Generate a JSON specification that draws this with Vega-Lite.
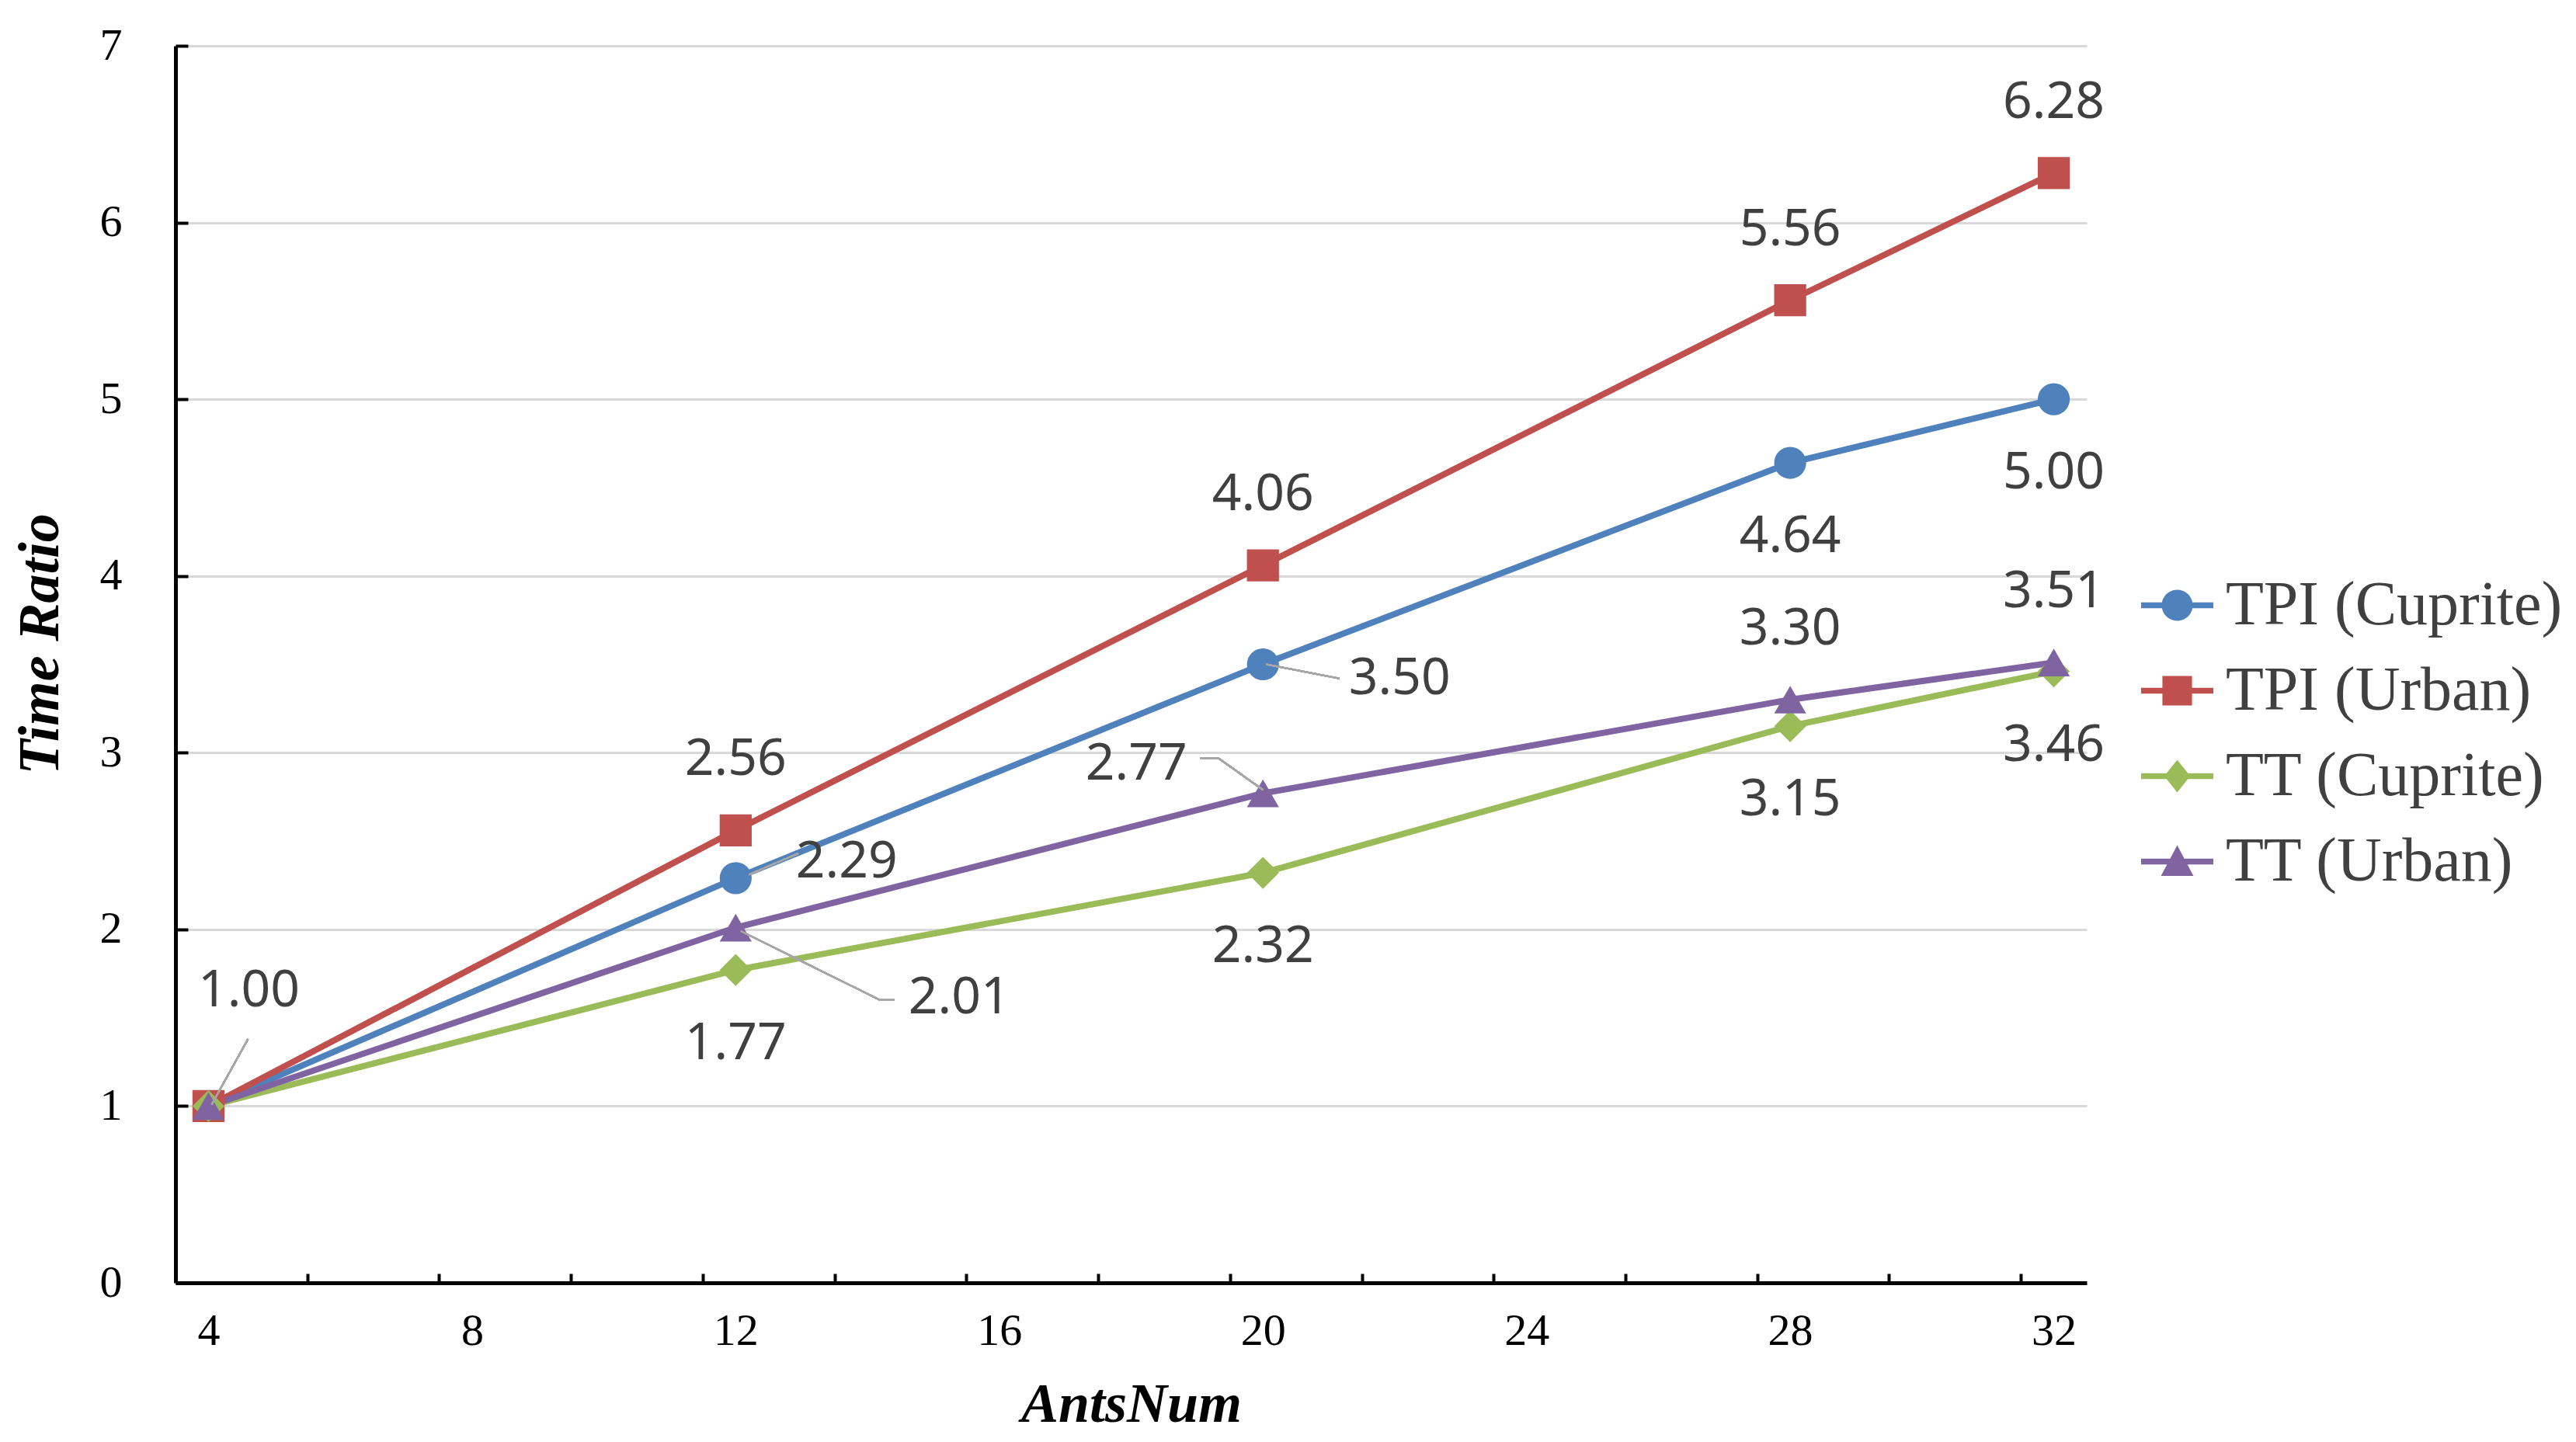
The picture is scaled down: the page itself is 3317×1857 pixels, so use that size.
{
  "$schema": "https://vega.github.io/schema/vega-lite/v6.json",
  "width": 2461,
  "height": 1593,
  "autosize": {"type": "none"},
  "padding": {"left": 226, "top": 59, "right": 630, "bottom": 205},
  "background": "white",
  "config": {"view": {"stroke": null}},
  "data": {
    "values": [
      {"ants": 4, "ratio": 1.00, "series": "TPI (Cuprite)", "pos": "callout"},
      {"ants": 12, "ratio": 2.29, "series": "TPI (Cuprite)", "pos": "callout"},
      {"ants": 20, "ratio": 3.50, "series": "TPI (Cuprite)", "pos": "callout"},
      {"ants": 28, "ratio": 4.64, "series": "TPI (Cuprite)", "pos": "below"},
      {"ants": 32, "ratio": 5.00, "series": "TPI (Cuprite)", "pos": "below"},
      {"ants": 4, "ratio": 1.00, "series": "TPI (Urban)", "pos": "hidden"},
      {"ants": 12, "ratio": 2.56, "series": "TPI (Urban)", "pos": "above"},
      {"ants": 20, "ratio": 4.06, "series": "TPI (Urban)", "pos": "above"},
      {"ants": 28, "ratio": 5.56, "series": "TPI (Urban)", "pos": "above"},
      {"ants": 32, "ratio": 6.28, "series": "TPI (Urban)", "pos": "above"},
      {"ants": 4, "ratio": 1.00, "series": "TT (Cuprite)", "pos": "hidden"},
      {"ants": 12, "ratio": 1.77, "series": "TT (Cuprite)", "pos": "below"},
      {"ants": 20, "ratio": 2.32, "series": "TT (Cuprite)", "pos": "below"},
      {"ants": 28, "ratio": 3.15, "series": "TT (Cuprite)", "pos": "below"},
      {"ants": 32, "ratio": 3.46, "series": "TT (Cuprite)", "pos": "below"},
      {"ants": 4, "ratio": 1.00, "series": "TT (Urban)", "pos": "hidden"},
      {"ants": 12, "ratio": 2.01, "series": "TT (Urban)", "pos": "callout"},
      {"ants": 20, "ratio": 2.77, "series": "TT (Urban)", "pos": "callout"},
      {"ants": 28, "ratio": 3.30, "series": "TT (Urban)", "pos": "above"},
      {"ants": 32, "ratio": 3.51, "series": "TT (Urban)", "pos": "above"}
    ]
  },
  "encoding": {
    "x": {
      "field": "ants",
      "type": "quantitative",
      "scale": {"domain": [3.5, 32.5], "nice": false, "zero": false},
      "axis": {
        "title": "AntsNum",
        "values": [4, 5.5, 7.5, 8, 9.5, 11.5, 12, 13.5, 15.5, 16, 17.5, 19.5, 20, 21.5, 23.5, 24, 25.5, 27.5, 28, 29.5, 31.5, 32],
        "labelExpr": "datum.value % 4 === 0 ? datum.label : ''",
        "labelFont": "Liberation Serif",
        "labelFontSize": 58,
        "labelColor": "black",
        "labelPadding": 45,
        "labelFlush": false,
        "labelOverlap": false,
        "tickSize": -12,
        "tickWidth": 4,
        "tickColor": "black",
        "tickOpacity": {"condition": {"test": "datum.value % 4 === 0", "value": 0}, "value": 1},
        "domainColor": "black",
        "domainWidth": 5,
        "grid": false,
        "titleFont": "Liberation Serif",
        "titleFontStyle": "italic",
        "titleFontWeight": "bold",
        "titleFontSize": 72,
        "titleColor": "black",
        "titlePadding": 30
      }
    },
    "y": {
      "field": "ratio",
      "type": "quantitative",
      "scale": {"domain": [0, 7], "nice": false},
      "axis": {
        "title": "Time Ratio",
        "values": [0, 1, 2, 3, 4, 5, 6, 7],
        "labelFont": "Liberation Serif",
        "labelFontSize": 58,
        "labelColor": "black",
        "labelPadding": 85,
        "labelFlush": false,
        "tickSize": -16,
        "tickWidth": 4,
        "tickColor": "black",
        "domainColor": "black",
        "domainWidth": 5,
        "grid": true,
        "gridColor": "#D9D9D9",
        "gridWidth": 3,
        "titleFont": "Liberation Serif",
        "titleFontStyle": "italic",
        "titleFontWeight": "bold",
        "titleFontSize": 74,
        "titleColor": "black",
        "titlePadding": 38,
        "titleY": 770
      }
    },
    "color": {
      "field": "series",
      "type": "nominal",
      "scale": {"domain": ["TPI (Cuprite)", "TPI (Urban)", "TT (Cuprite)", "TT (Urban)"], "range": ["#4F81BD", "#C0504D", "#9BBB59", "#8064A2"]},
      "legend": {
        "title": null,
        "orient": "none",
        "legendX": 2531,
        "legendY": 674,
        "padding": 0,
        "symbolSize": 8649,
        "symbolStrokeWidth": 0,
        "symbolOpacity": 1,
        "labelFont": "Liberation Serif",
        "labelFontSize": 80,
        "labelColor": "#404040",
        "labelOffset": 16,
        "labelLimit": 1000,
        "rowPadding": 23
      }
    }
  },
  "layer": [
    {
      "mark": {"type": "line", "strokeWidth": 8}
    },
    {
      "transform": [{"filter": "datum.series === 'TPI (Cuprite)'"}],
      "mark": {"type": "point", "shape": "circle", "filled": true, "opacity": 1, "size": 1700}
    },
    {
      "transform": [{"filter": "datum.series === 'TPI (Urban)'"}],
      "mark": {"type": "point", "shape": "square", "filled": true, "opacity": 1, "size": 1700}
    },
    {
      "transform": [{"filter": "datum.series === 'TT (Cuprite)'"}],
      "mark": {"type": "point", "shape": "diamond", "filled": true, "opacity": 1, "size": 1700}
    },
    {
      "transform": [{"filter": "datum.series === 'TT (Urban)'"}],
      "mark": {"type": "point", "shape": "triangle-up", "filled": true, "opacity": 1, "size": 1700}
    },
    {
      "transform": [{"filter": "datum.ants < 0"}],
      "mark": {"type": "point", "filled": true, "opacity": 1},
      "encoding": {
        "shape": {
          "field": "series",
          "type": "nominal",
          "scale": {
            "domain": ["TPI (Cuprite)", "TPI (Urban)", "TT (Cuprite)", "TT (Urban)"],
            "range": [
              "M-1,-0.08H1V0.08H-1Z M0.43,0A0.43,0.43,0,1,1,-0.43,0A0.43,0.43,0,1,1,0.43,0Z",
              "M-1,-0.08H1V0.08H-1Z M-0.41,-0.41H0.41V0.41H-0.41Z",
              "M-1,-0.08H1V0.08H-1Z M0,-0.45L0.36,0L0,0.45L-0.36,0Z",
              "M-1,-0.08H1V0.08H-1Z M0,-0.45L0.45,0.4H-0.45Z"
            ]
          },
          "legend": {
            "title": null,
            "orient": "none",
            "legendX": 2531,
            "legendY": 674,
            "padding": 0,
            "symbolSize": 8649,
            "symbolStrokeWidth": 0,
            "symbolOpacity": 1,
            "labelFont": "Liberation Serif",
            "labelFontSize": 80,
            "labelColor": "#404040",
            "labelOffset": 16,
            "labelLimit": 1000,
            "rowPadding": 23
          }
        }
      }
    },
    {
      "mark": {"type": "rule", "strokeWidth": 2},
      "encoding": {"color": {"value": "#A6A6A6"}, "x": {"datum": 4.05}, "y": {"datum": 1.01}, "x2": {"datum": 4.6}, "y2": {"datum": 1.38}}
    },
    {
      "mark": {"type": "rule", "strokeWidth": 2},
      "encoding": {"color": {"value": "#A6A6A6"}, "x": {"datum": 12.2}, "y": {"datum": 2.31}, "x2": {"datum": 12.95}, "y2": {"datum": 2.43}}
    },
    {
      "mark": {"type": "rule", "strokeWidth": 2},
      "encoding": {"color": {"value": "#A6A6A6"}, "x": {"datum": 20.05}, "y": {"datum": 3.5}, "x2": {"datum": 21.16}, "y2": {"datum": 3.42}}
    },
    {
      "mark": {"type": "rule", "strokeWidth": 2},
      "encoding": {"color": {"value": "#A6A6A6"}, "x": {"datum": 12.08}, "y": {"datum": 1.99}, "x2": {"datum": 14.19}, "y2": {"datum": 1.6}}
    },
    {
      "mark": {"type": "rule", "strokeWidth": 2},
      "encoding": {"color": {"value": "#A6A6A6"}, "x": {"datum": 14.19}, "y": {"datum": 1.6}, "x2": {"datum": 14.41}, "y2": {"datum": 1.6}}
    },
    {
      "mark": {"type": "rule", "strokeWidth": 2},
      "encoding": {"color": {"value": "#A6A6A6"}, "x": {"datum": 19.05}, "y": {"datum": 2.97}, "x2": {"datum": 19.32}, "y2": {"datum": 2.97}}
    },
    {
      "mark": {"type": "rule", "strokeWidth": 2},
      "encoding": {"color": {"value": "#A6A6A6"}, "x": {"datum": 19.32}, "y": {"datum": 2.97}, "x2": {"datum": 20.0}, "y2": {"datum": 2.79}}
    },
    {
      "transform": [{"filter": "datum.pos === 'above'"}],
      "mark": {"type": "text", "font": "Noto Sans", "fontSize": 66, "baseline": "middle", "align": "center", "dy": -91},
      "encoding": {"color": {"value": "#404040"}, "text": {"field": "ratio", "type": "quantitative", "format": ".2f"}}
    },
    {
      "transform": [{"filter": "datum.pos === 'below'"}],
      "mark": {"type": "text", "font": "Noto Sans", "fontSize": 66, "baseline": "middle", "align": "center", "dy": 95},
      "encoding": {"color": {"value": "#404040"}, "text": {"field": "ratio", "type": "quantitative", "format": ".2f"}}
    },
    {
      "transform": [{"filter": "datum.series === 'TPI (Cuprite)' && datum.ants === 4"}],
      "mark": {"type": "text", "font": "Noto Sans", "fontSize": 66, "baseline": "middle", "align": "center", "dx": 52, "dy": -148},
      "encoding": {"color": {"value": "#404040"}, "text": {"field": "ratio", "type": "quantitative", "format": ".2f"}}
    },
    {
      "transform": [{"filter": "datum.series === 'TPI (Cuprite)' && datum.ants === 12"}],
      "mark": {"type": "text", "font": "Noto Sans", "fontSize": 66, "baseline": "middle", "align": "center", "dx": 143, "dy": -21},
      "encoding": {"color": {"value": "#404040"}, "text": {"field": "ratio", "type": "quantitative", "format": ".2f"}}
    },
    {
      "transform": [{"filter": "datum.series === 'TPI (Cuprite)' && datum.ants === 20"}],
      "mark": {"type": "text", "font": "Noto Sans", "fontSize": 66, "baseline": "middle", "align": "center", "dx": 176, "dy": 18},
      "encoding": {"color": {"value": "#404040"}, "text": {"field": "ratio", "type": "quantitative", "format": ".2f"}}
    },
    {
      "transform": [{"filter": "datum.series === 'TT (Urban)' && datum.ants === 12"}],
      "mark": {"type": "text", "font": "Noto Sans", "fontSize": 66, "baseline": "middle", "align": "center", "dx": 288, "dy": 90},
      "encoding": {"color": {"value": "#404040"}, "text": {"field": "ratio", "type": "quantitative", "format": ".2f"}}
    },
    {
      "transform": [{"filter": "datum.series === 'TT (Urban)' && datum.ants === 20"}],
      "mark": {"type": "text", "font": "Noto Sans", "fontSize": 66, "baseline": "middle", "align": "center", "dx": -163, "dy": -38},
      "encoding": {"color": {"value": "#404040"}, "text": {"field": "ratio", "type": "quantitative", "format": ".2f"}}
    }
  ]
}
